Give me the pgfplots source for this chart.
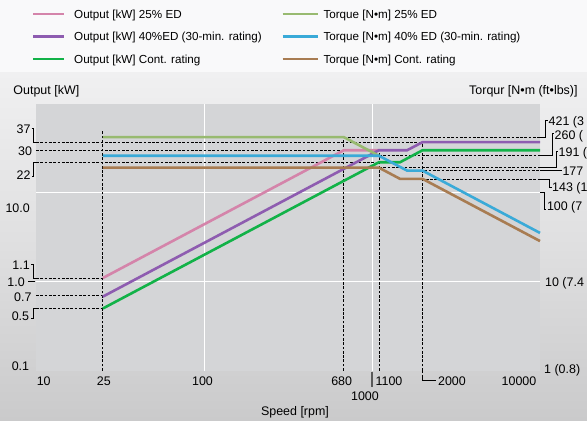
\documentclass[border=0pt]{standalone}
\usepackage{fontspec}
\setmainfont{Liberation Sans}
\usepackage{pgfplots}
\pgfplotsset{compat=1.18}
\definecolor{pinkc}{RGB}{212,132,170}
\definecolor{purplec}{RGB}{142,92,176}
\definecolor{greenc}{RGB}{18,178,72}
\definecolor{lgreenc}{RGB}{152,186,112}
\definecolor{bluec}{RGB}{58,170,216}
\definecolor{brownc}{RGB}{168,124,82}
\definecolor{bgtop}{RGB}{240,240,241}
\definecolor{bgmid}{RGB}{223,223,224}
\definecolor{bgbot}{RGB}{202,202,203}
\definecolor{legbg}{RGB}{249,249,250}
\definecolor{plotbg}{RGB}{212,213,215}
\tikzset{
  refdash/.style={black, line width=0.75bp, dash pattern=on 2.7bp off 1.6bp},
  dl/.style={line width=2.6bp}
}
\begin{document}
\begin{tikzpicture}
\shade[top color=bgtop, bottom color=bgbot, middle color=bgmid] (0,0) rectangle (587bp,349bp);
\fill[legbg] (0,349bp) rectangle (587bp,421bp);
\fill[plotbg] (36bp,50.3bp) rectangle (540bp,317.3bp);

% grid + output reference lines
\begin{axis}[at={(36bp,50.3bp)}, anchor=south west, width=504bp, height=267bp,
    scale only axis, xmode=log, ymode=log, xmin=10, xmax=10000, ymin=0.1, ymax=100, clip=false,
    axis line style={draw=none}, tick style={draw=none},
    xtick={100,1000}, ytick={1,10}, xticklabels={}, yticklabels={},
    major tick length=0pt, grid=major, grid style={white, line width=1bp}]
\addplot[refdash] coordinates {(10,37) (2000,37)};
\addplot[refdash] coordinates {(10,30) (680,30)};
\addplot[refdash] coordinates {(10,22) (1100,22)};
\addplot[refdash] coordinates {(10,1.1) (25,1.1)};
\addplot[refdash] coordinates {(10,0.7) (25,0.7)};
\addplot[refdash] coordinates {(10,0.5) (25,0.5)};
\addplot[refdash] coordinates {(25,0.1) (25,50)};
\addplot[refdash] coordinates {(680,0.1) (680,42.1)};
\addplot[refdash] coordinates {(1100,0.1) (1100,30)};
\addplot[refdash] coordinates {(2000,0.1) (2000,37)};
\end{axis}

% torque reference lines
\begin{axis}[at={(36bp,50.3bp)}, anchor=south west, width=504bp, height=267bp,
    scale only axis, xmode=log, ymode=log, xmin=10, xmax=10000, ymin=1, ymax=1000, clip=false,
    axis line style={draw=none}, tick style={draw=none}, xtick=\empty, ytick=\empty]
\addplot[refdash] coordinates {(680,421) (10000,421)};
\addplot[refdash] coordinates {(1100,260) (10000,260)};
\addplot[refdash] coordinates {(1100,191) (10000,191)};
\addplot[refdash] coordinates {(1619,177) (10000,177)};
\addplot[refdash] coordinates {(1469,143) (10000,143)};
\end{axis}

% output curves [kW]
\begin{axis}[at={(36bp,50.3bp)}, anchor=south west, width=504bp, height=267bp,
    scale only axis, xmode=log, ymode=log, xmin=10, xmax=10000, ymin=0.1, ymax=100, clip=false,
    axis line style={draw=none}, tick style={draw=none}, xtick=\empty, ytick=\empty]
\addplot[dl, pinkc] coordinates {(25,1.10) (680,30) (1100,30)};
\addplot[dl, purplec] coordinates {(25,0.68) (1100,30) (1619,30) (2000,37) (10000,37)};
\addplot[dl, greenc] coordinates {(25,0.50) (1100,22) (1469,22) (2000,30) (10000,30)};
\end{axis}

% torque curves [N m]
\begin{axis}[at={(36bp,50.3bp)}, anchor=south west, width=504bp, height=267bp,
    scale only axis, xmode=log, ymode=log, xmin=10, xmax=10000, ymin=1, ymax=1000, clip=false,
    axis line style={draw=none}, tick style={draw=none}, xtick=\empty, ytick=\empty]
\addplot[dl, lgreenc] coordinates {(25,421) (680,421) (1100,260)};
\addplot[dl, bluec] coordinates {(25,260) (1100,260) (1619,177) (2000,177) (10000,35.3)};
\addplot[dl, brownc] coordinates {(25,191) (1100,191) (1469,143) (2000,143) (10000,28.6)};
\end{axis}

\begin{scope}[x=1bp, y=-1bp, shift={(0,421bp)},
  every node/.style={inner sep=0pt, text=black, font=\fontsize{12.5}{14}\selectfont},
  brk/.style={black, line width=0.75bp}]
% legend
\begin{scope}[every node/.style={inner sep=0pt, anchor=base west, font=\fontsize{11.7}{13}\selectfont}]
\draw[pinkc, line width=2.6bp] (33.3,14) -- (64.3,14);
\node at (74,18.2) {Output [kW] 25\% ED};
\draw[purplec, line width=2.6bp] (33.3,36.5) -- (64.3,36.5);
\node at (74,40.7) {Output [kW] 40\%ED (30-min. rating)};
\draw[greenc, line width=2.6bp] (33.3,59) -- (64.3,59);
\node at (74,63.2) {Output [kW] Cont. rating};
\draw[lgreenc, line width=2.6bp] (282.7,14) -- (318.3,14);
\node at (323.3,18.2) {Torque [N•m] 25\% ED};
\draw[bluec, line width=2.6bp] (282.7,36.5) -- (318.3,36.5);
\node at (323.3,40.7) {Torque [N•m] 40\% ED (30-min. rating)};
\draw[brownc, line width=2.6bp] (282.7,59) -- (318.3,59);
\node at (323.3,63.2) {Torque [N•m] Cont. rating};
\end{scope}
% axis titles
\node[anchor=base west] at (13.3,94.5) {Output [kW]};
\node[anchor=base west] at (469,94.5) {Torqur [N•m (ft•lbs)]};
\node[anchor=base] at (295,416) {Speed [rpm]};
% left labels and brackets
\draw[brk] (31.5,128.3) -- (33.3,128.3) -- (33.3,142.1) -- (36,142.1);
\node[anchor=base east] at (30.7,133.8) {37};
\node[anchor=base east] at (32.3,155.5) {30};
\draw[brk] (36,162.2) -- (33.3,162.2) -- (33.3,176.7) -- (31.5,176.7);
\node[anchor=base east] at (30.7,179.5) {22};
\node[anchor=base east] at (30,212.2) {10.0};
\draw[brk] (31,264) -- (33.3,264) -- (33.3,278) -- (36,278);
\node[anchor=base east] at (30,269.5) {1.1};
\draw[brk] (28.3,281.7) -- (35,281.7);
\node[anchor=base east] at (25,286.8) {1.0};
\node[anchor=base east] at (31.7,301.2) {0.7};
\draw[brk] (36,308.5) -- (33.3,308.5) -- (33.3,318.5) -- (31,318.5);
\node[anchor=base east] at (29.3,320.2) {0.5};
\node[anchor=base east] at (29.3,370.5) {0.1};
% right labels and brackets (cut at the picture's edge as in the original)
\draw[brk] (540,137.1) -- (545.3,137.1) -- (545.3,120.7) -- (547.5,120.7);
\node[anchor=base west] at (548.5,126) {421 (3};
\draw[brk] (540,155.8) -- (552,155.8) -- (552,133.3) -- (554,133.3);
\node[anchor=base west] at (554.5,139.5) {260 (};
\draw[brk] (540,167.7) -- (556,167.7) -- (556,151.7) -- (558,151.7);
\node[anchor=base west] at (558.5,156.2) {191 (};
\draw[brk] (540,170.6) -- (561.5,170.6);
\node[anchor=base west] at (562.3,175.1) {177};
\draw[brk] (540,178.9) -- (549.5,178.9) -- (549.5,187.3) -- (551.5,187.3);
\node[anchor=base west] at (552,191.8) {143 (1};
\draw[brk] (540,192.7) -- (544,192.7) -- (544,209) -- (546,209);
\node[anchor=base west] at (546.8,210.5) {100 (7};
\node[anchor=base west] at (545,286.8) {10 (7.4};
\node[anchor=base west] at (544,373.8) {1 (0.8)};
% x labels
\node[anchor=base] at (43.7,385.5) {10};
\node[anchor=base] at (103.8,385.5) {25};
\node[anchor=base] at (202.5,385.5) {100};
\node[anchor=base] at (341.7,385.5) {680};
\draw[black!65, line width=1.3bp] (372,371.7) -- (372,386.7);
\node[anchor=base] at (365,400.2) {1000};
\node[anchor=base] at (389,385.5) {1100};
\draw[refdash] (422.6,370.7) -- (422.6,378);
\draw[brk] (422.6,377) -- (422.6,380) -- (436,380);
\node[anchor=base] at (452,385.5) {2000};
\node[anchor=base] at (519,385.5) {10000};
\end{scope}
\pgfresetboundingbox
\path[use as bounding box] (0,0) rectangle (587bp,421bp);
\end{tikzpicture}
\end{document}
